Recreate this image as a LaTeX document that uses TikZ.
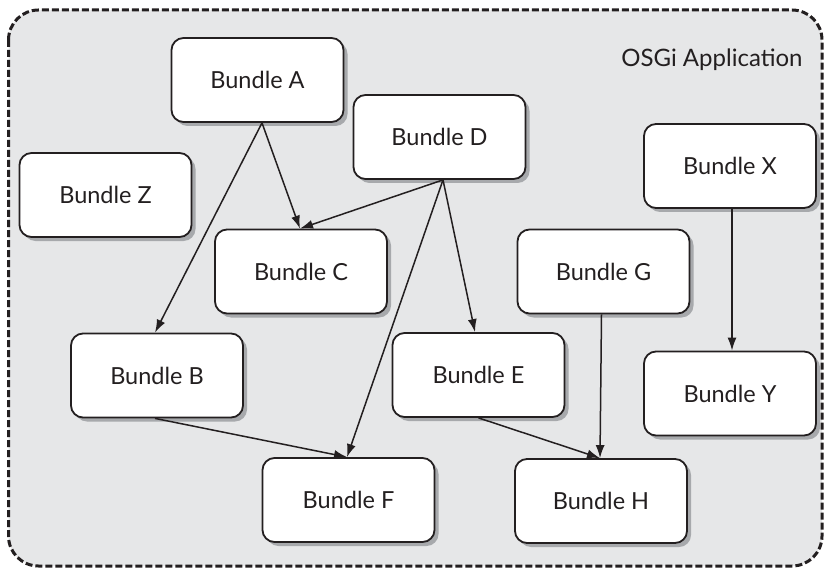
\documentclass[tikz,border=0pt]{standalone}
\usepackage{fontspec}
\setmainfont{Lato}
\usetikzlibrary{arrows.meta,shadows}
\definecolor{bgpanel}{HTML}{E6E7E8}
\definecolor{shadowgray}{HTML}{A7A9AC}
\definecolor{inkcol}{HTML}{231F20}
\tikzset{
  bundle/.style={draw=inkcol, line width=1.8pt, fill=white, rounded corners=12pt,
    minimum width=172pt, minimum height=84pt, inner sep=0pt,
    font=\fontsize{23.5}{28}\selectfont, text=inkcol,
    drop shadow={shadow xshift=4pt, shadow yshift=-4pt, fill=shadowgray, opacity=1}},
  dep/.style={draw=inkcol, line width=1.5pt, -{Latex[length=13pt,width=9pt]}},
}
\begin{document}
\begin{tikzpicture}[x=1pt,y=-1pt]
\useasboundingbox (0,0) rectangle (826,569);
\draw[fill=bgpanel, draw=inkcol, line width=3pt, dash pattern=on 7pt off 3pt, rounded corners=30pt]
  (8.5,10) rectangle (822,566);
\node[anchor=east, font=\fontsize{24}{28}\selectfont, text=inkcol] (title) at (806,60) {OSGi Application};

\node[bundle] (A) at (257.5,80) {Bundle A};
\node[bundle] (D) at (439.5,137) {Bundle D};
\node[bundle] (Z) at (105.5,195) {Bundle Z};
\node[bundle] (C) at (301,271.5) {Bundle C};
\node[bundle] (B) at (157,375.5) {Bundle B};
\node[bundle] (E) at (478.5,375) {Bundle E};
\node[bundle] (G) at (603.5,271.5) {Bundle G};
\node[bundle] (X) at (730,166) {Bundle X};
\node[bundle] (Y) at (730,393.5) {Bundle Y};
\node[bundle] (F) at (348.5,500) {Bundle F};
\node[bundle] (H) at (601,501) {Bundle H};

\draw[dep] ([xshift=4.5pt]A.south) -- ([xshift=-2pt]B.north);
\draw[dep] ([xshift=4.5pt]A.south) -- ([xshift=-1pt]C.north);
\draw[dep] ([xshift=3.5pt]D.south) -- ([xshift=-1pt]C.north);
\draw[dep] ([xshift=3.5pt]D.south) -- ([xshift=-1.5pt]F.north);
\draw[dep] ([xshift=3.5pt]D.south) -- ([xshift=-3.5pt]E.north);
\draw[dep] ([xshift=-2pt]B.south) -- ([xshift=-1.5pt]F.north);
\draw[dep] (E.south) -- ([xshift=-1pt]H.north);
\draw[dep] ([xshift=-2pt]G.south) -- ([xshift=-1pt]H.north);
\draw[dep] ([xshift=2pt]X.south) -- ([xshift=2pt]Y.north);
\end{tikzpicture}
\end{document}
